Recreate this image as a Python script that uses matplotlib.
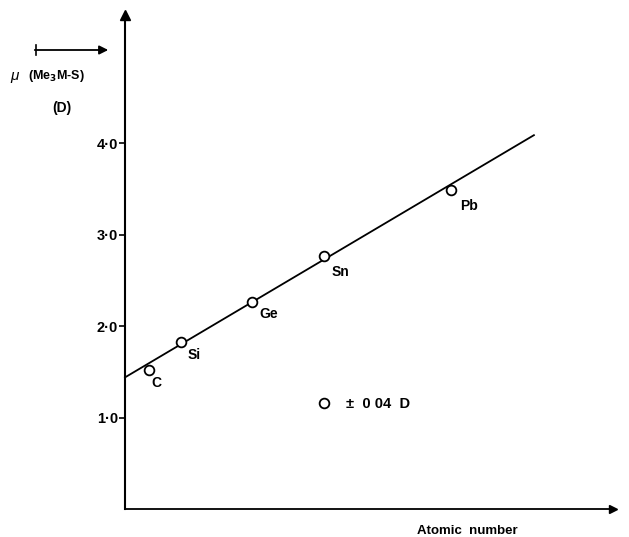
import matplotlib
matplotlib.use("Agg")
import matplotlib.pyplot as plt
import numpy as np

# atomic number vs dipole moment of Me3M-S
elements = ["C", "Si", "Ge", "Sn", "Pb"]
atomic_number = [6, 14, 32, 50, 82]
dipole = [1.52, 1.83, 2.27, 2.77, 3.49]

# fitted line (ends)
line_z = [0, 103]
line_mu = [1.44, 4.09]

yticks = [1.0, 2.0, 3.0, 4.0]
ytick_labels = ["1·0", "2·0", "3·0", "4·0"]

label_offsets = {"C": (8, -13), "Si": (14, -13), "Ge": (17, -12),
                 "Sn": (17, -16), "Pb": (18, -16)}

plt.rcParams['font.family'] = ['Liberation Sans', 'DejaVu Sans']
plt.rcParams['font.weight'] = 'bold'

W, H = 629, 537
fig = plt.figure(figsize=(W / 100, H / 100), dpi=100)
ax = fig.add_axes([0, 0, 1, 1])

# pixel -> data mapping: Z=0 at x=125, 3.97 px per unit; mu=0 at y=509, 91.4 px per unit
px_z = 3.97
px_mu = 91.4
ax.set_xlim(-125 / px_z, (W - 125) / px_z)
ax.set_ylim((509 - H) / px_mu, 509 / px_mu)

ax.spines['left'].set_position(('data', 0))
ax.spines['bottom'].set_position(('data', 0))
ax.spines['right'].set_visible(False)
ax.spines['top'].set_visible(False)
ax.spines['left'].set_bounds(0, 5.40)
ax.spines['bottom'].set_bounds(0, 123)
ax.spines['left'].set_linewidth(1.5)
ax.spines['bottom'].set_linewidth(1.3)
ax.patch.set_alpha(0)

# arrowheads on the axes
ax.plot([0], [5.40], marker='^', color='black', markersize=7, clip_on=False)
ax.plot([123], [0], marker='>', color='black', markersize=6, clip_on=False)

ax.set_yticks(yticks)
ax.set_yticklabels(ytick_labels, fontsize=10.5, fontweight='bold')
ax.set_xticks([])
ax.tick_params(axis='y', direction='out', length=4, width=1.2, pad=1)

ax.plot(line_z, line_mu, color='black', linewidth=1.3)
ax.plot(atomic_number, dipole, linestyle='none', marker='o', markersize=7,
        markerfacecolor='white', markeredgecolor='black', markeredgewidth=1.3)

for el, z, m in zip(elements, atomic_number, dipole):
    dx, dy = label_offsets[el]
    ax.annotate(el, (z, m), xytext=(dx, dy), textcoords='offset pixels',
                ha='center', va='center', fontsize=10, fontweight='bold')

# error note
ax.plot([50], [(509 - 403) / px_mu], linestyle='none', marker='o', markersize=7,
        markerfacecolor='white', markeredgecolor='black', markeredgewidth=1.3)
fig.text(346 / W, 1 - 404 / H, "±  0 04  D", fontsize=10.5, fontweight='bold',
         ha='left', va='center')

fig.text(467 / W, 1 - 531 / H, "Atomic  number", fontsize=9.5, fontweight='bold',
         ha='center', va='center')

# dipole arrow and y label
fig.add_artist(matplotlib.patches.FancyArrowPatch(
    (32 / W, 1 - 50 / H), (111 / W, 1 - 50 / H), transform=fig.transFigure,
    arrowstyle='-|>', mutation_scale=13, color='black', linewidth=1.3))
fig.add_artist(matplotlib.lines.Line2D([36 / W, 36 / W], [1 - 45 / H, 1 - 55 / H],
                                       transform=fig.transFigure, color='black', linewidth=1.2))
fig.text(10 / W, 1 - 76 / H, "μ", fontsize=11, fontweight='normal', style='italic',
         ha='left', va='center')
fig.text(28 / W, 1 - 76 / H, "(Me$_\\mathbf{3}$M-S)", fontsize=9, fontweight='bold',
         ha='left', va='center')
fig.text(62 / W, 1 - 108 / H, "(D)", fontsize=10, fontweight='bold',
         ha='center', va='center')

fig.savefig("out.png", dpi=100)
